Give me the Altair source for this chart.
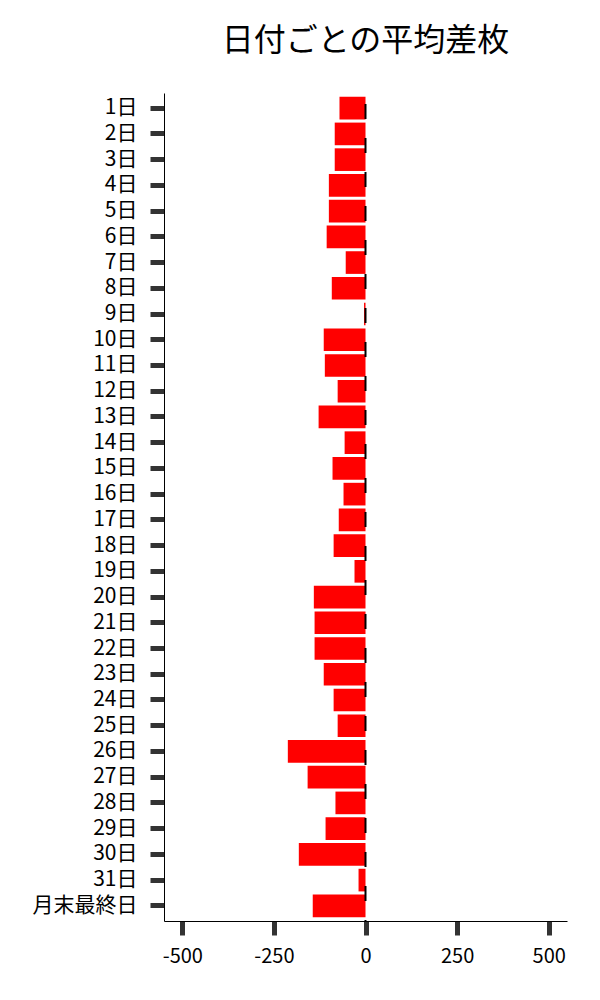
import altair as alt
import pandas as pd

days = [f"{i}日" for i in range(1, 32)] + ["月末最終日"]
avg_diff = [-71, -84, -84, -100, -100, -106, -54, -92, -4, -114,
            -111, -76, -128, -57, -90, -60, -73, -87, -30, -141,
            -139, -139, -114, -87, -76, -212, -158, -82, -109, -182,
            -19, -144]
x_ticks = [-500, -250, 0, 250, 500]

df = pd.DataFrame({"day": days, "value": avg_diff})
zero_df = pd.DataFrame({"zero": [0]})

FONT = "Noto Sans CJK JP"

x_scale = alt.Scale(domain=[-550, 550], nice=False, zero=False)

bars = alt.Chart(df).mark_bar(color="#ff0000").encode(
    y=alt.Y("day:N", sort=days, title=None,
            scale=alt.Scale(paddingInner=0.12, paddingOuter=0.15),
            axis=alt.Axis(labelPadding=13, labelFontSize=21)),
    x=alt.X("value:Q", scale=x_scale, title=None,
            axis=alt.Axis(values=x_ticks, labelPadding=11, grid=False,
                          labelFontSize=20,
                          labelExpr="'' + datum.value")),
)

rule = alt.Chart(zero_df).mark_rule(
    color="black", strokeWidth=2, strokeDash=[15, 19], strokeDashOffset=23
).encode(x=alt.X("zero:Q", scale=x_scale))

chart = alt.layer(bars, rule).properties(
    width=403,
    height=828,
    padding={"left": 24, "top": 17, "right": 5, "bottom": 5},
    title=alt.TitleParams("日付ごとの平均差枚", fontSize=32, font=FONT,
                          fontWeight="normal", color="black", offset=34,
                          anchor="middle"),
).configure_view(stroke=None).configure_axis(
    labelFont=FONT, labelColor="black",
    domainColor="black", domainWidth=1,
    tickColor="#333333", tickWidth=5, tickSize=14,
    grid=False,
)

chart.save("out.html", embed_options={"renderer": "svg", "actions": False})
